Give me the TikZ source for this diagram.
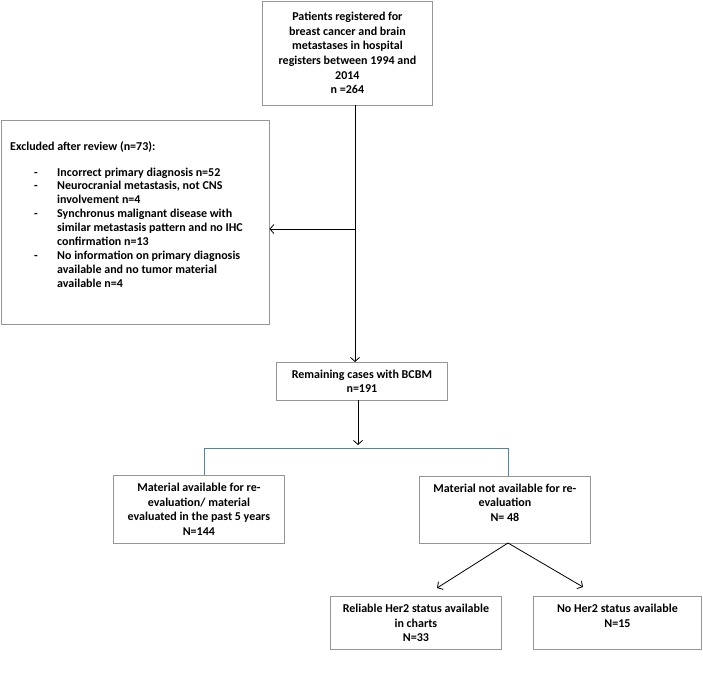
\documentclass[tikz,border=0pt]{standalone}
\usepackage{fontspec}
\setmainfont{Carlito}
\usetikzlibrary{arrows.meta}
\definecolor{boxgray}{RGB}{150,150,150}
\definecolor{linkblue}{RGB}{79,129,189}
\begin{document}
\begin{tikzpicture}[x=1pt,y=-1pt,
  box/.style={draw=boxgray, line width=0.8pt, align=center, inner sep=0pt,
    font=\bfseries\fontsize{12}{14.6}\selectfont},
  txt/.style={inner sep=0pt, align=left, font=\bfseries\fontsize{12}{13.9}\selectfont},
  arr/.style={-{Straight Barb[length=4pt,width=9pt]}, line width=0.8pt},
  bluel/.style={draw=linkblue, line width=0.8pt}]
\useasboundingbox (0,0) rectangle (703,700);

\node[box, minimum width=170, minimum height=104, anchor=north west] (top) at (262,0.6)
  {Patients registered for\\breast cancer and brain\\metastases in hospital\\registers between 1994 and\\2014\\n =264};

\node[box, minimum width=268, minimum height=203, anchor=north west] (excl) at (0.6,120.5) {};
\node[txt, anchor=north west] (excltext) at (10,141)
  {Excluded after review (n=73):\\[12pt]
   \makebox[47pt][l]{\hspace*{24pt}-}Incorrect primary diagnosis n=52\\
   \makebox[47pt][l]{\hspace*{24pt}-}Neurocranial metastasis, not CNS\\
   \hspace*{47pt}involvement n=4\\
   \makebox[47pt][l]{\hspace*{24pt}-}Synchronus malignant disease with\\
   \hspace*{47pt}similar metastasis pattern and no IHC\\
   \hspace*{47pt}confirmation n=13\\
   \makebox[47pt][l]{\hspace*{24pt}-}No information on primary diagnosis\\
   \hspace*{47pt}available and no tumor material\\
   \hspace*{47pt}available n=4};

\node[box, minimum width=171, minimum height=38, anchor=north west] (rem) at (276,362)
  {Remaining cases with BCBM\\n=191};

\node[box, minimum width=171, minimum height=68, anchor=north west] (avail) at (113,475)
  {Material available for re-\\evaluation/ material\\evaluated in the past 5 years\\N=144};

\node[box, minimum width=171, minimum height=67, anchor=north west] (notavail) at (419,476)
  {Material not available for re-\\evaluation\\N= 48\\\mbox{}};

\node[box, minimum width=171, minimum height=53, anchor=north west] (reliable) at (330,596)
  {Reliable Her2 status available\\in charts\\N=33};

\node[box, minimum width=168, minimum height=53, anchor=north west] (noher) at (533,596)
  {No Her2 status available\\N=15\\\mbox{}};

% main vertical flow
\coordinate (vtop) at (355,104.6);
\coordinate (vjoin) at (355,229);
\draw[line width=0.8pt] (vtop) -- (vjoin);
\draw[arr] (vjoin) -- (vjoin -| excl.east);
\draw[arr] (vjoin) -- (rem.north -| vjoin);

\coordinate (remout) at (358,400);
\coordinate (remtip) at (358,445);
\draw[arr] (remout) -- (remtip);

% blue split
\coordinate (bl) at (204,448);
\coordinate (br) at (508,448);
\draw[bluel] (avail.north -| bl) -- (bl) -- (br) -- (notavail.north -| br);

% diagonal arrows
\coordinate (nsplit) at (508,543);
\coordinate (lefttip) at (437,588);
\coordinate (righttip) at (583,587);
\draw[arr] (nsplit) -- (lefttip);
\draw[arr] (nsplit) -- (righttip);
\end{tikzpicture}
\end{document}
